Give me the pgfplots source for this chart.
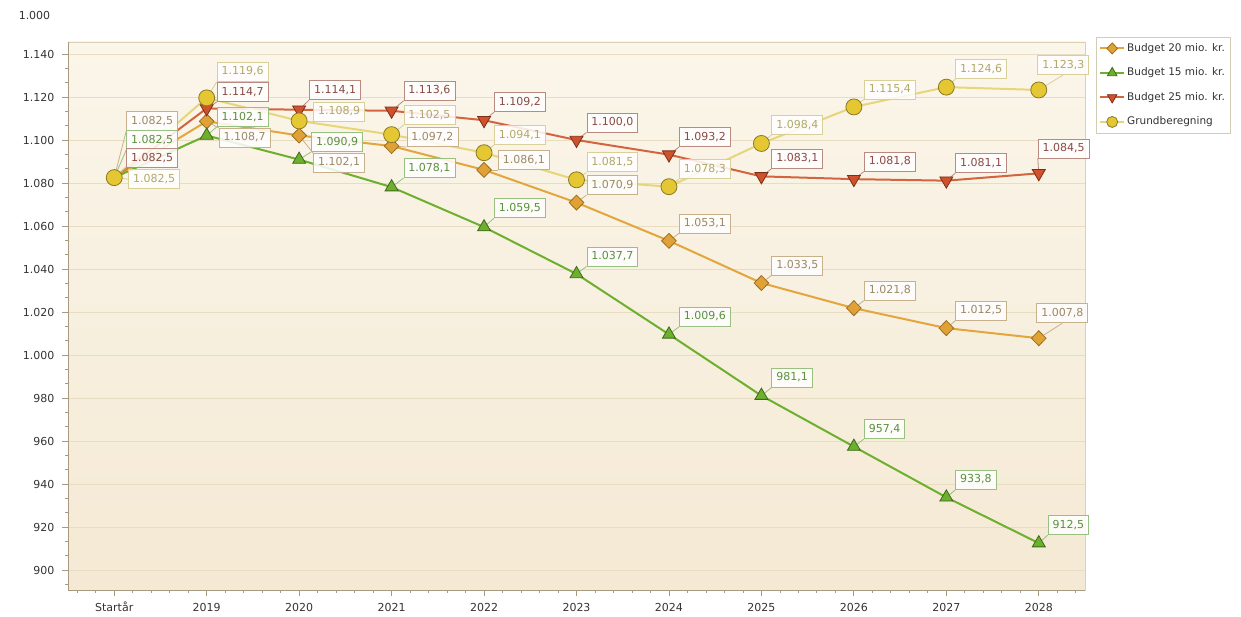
\documentclass[border=0pt]{standalone}
\usepackage{fontspec}
\setmainfont{DejaVu Sans}
\usepackage{pgfplots}
\pgfplotsset{compat=1.18}

\definecolor{cB20}{HTML}{E3A53C}
\definecolor{cB20m}{HTML}{E0A236}
\definecolor{cB20d}{HTML}{9A6E22}
\definecolor{cB15}{HTML}{6DAF2E}
\definecolor{cB15d}{HTML}{3C6A18}
\definecolor{cB25}{HTML}{D4643F}
\definecolor{cB25m}{HTML}{D0522C}
\definecolor{cB25d}{HTML}{7E2E18}
\definecolor{cGr}{HTML}{E6D679}
\definecolor{cGrm}{HTML}{E5C733}
\definecolor{cGrd}{HTML}{8A7A22}
\definecolor{cAxis}{HTML}{A89A80}
\definecolor{cAxisL}{HTML}{DCCFB2}
\definecolor{cGrid}{HTML}{E8DCC2}
\definecolor{cBgT}{HTML}{FBF6EA}
\definecolor{cBgB}{HTML}{F4E9D4}
\definecolor{cTxt}{HTML}{333333}
\definecolor{cLeg}{HTML}{D5CCB5}
% label colours
\definecolor{lB20b}{HTML}{C8B08A}
\definecolor{lB20t}{HTML}{9C8866}
\definecolor{lB15b}{HTML}{98C080}
\definecolor{lB15t}{HTML}{5A9040}
\definecolor{lB25b}{HTML}{B88A80}
\definecolor{lB25t}{HTML}{8A4A44}
\definecolor{lGrb}{HTML}{D8D098}
\definecolor{lGrt}{HTML}{B0A868}

\tikzset{
  lbase/.style={draw, fill=white, fill opacity=0.85, text opacity=1,
    inner xsep=4.5pt, inner ysep=4.5pt, text height=8pt, text depth=2pt,
    font=\fontsize{11}{13}\selectfont, line width=0.8pt},
  B20box/.style={lbase, draw=lB20b, text=lB20t},
  B15box/.style={lbase, draw=lB15b, text=lB15t},
  B25box/.style={lbase, draw=lB25b, text=lB25t},
  Grbox/.style={lbase, draw=lGrb, text=lGrt},
  B20line/.style={draw=lB20b, line width=0.8pt},
  B15line/.style={draw=lB15b, line width=0.8pt},
  B25line/.style={draw=lB25b, line width=0.8pt},
  Grline/.style={draw=lGrb, line width=0.8pt},
}
\newcommand{\lab}[7]{\draw[#1line] (axis cs:#2,#3) -- ++(#5pt,#6pt) node[#1box,anchor=#4]{#7};}

\begin{document}
\begin{tikzpicture}
\path[use as bounding box] (0,0) rectangle (1241pt,617pt);
\begin{axis}[
  at={(68pt,27pt)}, anchor=south west,
  scale only axis, width=1017pt, height=548pt,
  xmin=-0.5, xmax=10.5, ymin=890.7, ymax=1145.6,
  xtick={0,...,10},
  xticklabels={Startår,2019,2020,2021,2022,2023,2024,2025,2026,2027,2028},
  minor xtick={-0.4,-0.2,...,10.45},
  ytick={900,920,...,1140},
  minor ytick={893.3333,900,...,1145},
  tick align=outside, tick pos=left,
  major tick length=6pt, minor tick length=3pt,
  every tick/.style={draw=cAxis, line width=0.8pt},
  ymajorgrids, major grid style={draw=cGrid, line width=0.8pt},
  axis line style={draw=cAxisL, line width=0.8pt},
  axis background/.style={top color=cBgT, bottom color=cBgB},
  tick label style={font=\fontsize{11}{13}\selectfont, text=cTxt},
  xticklabel style={text height=9pt, text depth=2pt, yshift=-3pt},
  /pgf/number format/assume math mode=true,
  yticklabel style={xshift=-4pt, /pgf/number format/.cd, 1000 sep={.}, fixed, precision=0},
  clip=false,
  legend cell align=left,
  legend style={at={(1.0108,1.00912)}, anchor=north west, draw=cLeg, fill=white,
    font=\fontsize{10.5}{12}\selectfont, text=cTxt, inner xsep=3pt, inner ysep=4pt,
    row sep=10pt, nodes={inner sep=2pt, text height=8pt, text depth=2.5pt}},
  legend image code/.code={\draw[mark repeat=2,mark phase=2,mark size=5.5pt]
    plot coordinates {(0pt,0pt) (12pt,0pt) (24pt,0pt)};},
]
\addplot[cB20, line width=2pt, mark=diamond*, mark size=7.5pt,
  mark options={fill=cB20m, draw=cB20d, line width=0.8pt, xscale=1.3}]
  coordinates {(0,1082.5) (1,1108.7) (2,1102.1) (3,1097.2) (4,1086.1) (5,1070.9)
    (6,1053.1) (7,1033.5) (8,1021.8) (9,1012.5) (10,1007.8)};
\addlegendentry{Budget 20 mio. kr.}
\addplot[cB15, line width=2pt, mark=triangle*, mark size=7.5pt,
  mark options={fill=cB15, draw=cB15d, line width=0.8pt}]
  coordinates {(0,1082.5) (1,1102.1) (2,1090.9) (3,1078.1) (4,1059.5) (5,1037.7)
    (6,1009.6) (7,981.1) (8,957.4) (9,933.8) (10,912.5)};
\addlegendentry{Budget 15 mio. kr.}
\addplot[cB25, line width=2pt, mark=triangle*, mark size=7.5pt,
  mark options={rotate=180, fill=cB25m, draw=cB25d, line width=0.8pt}]
  coordinates {(0,1082.5) (1,1114.7) (2,1114.1) (3,1113.6) (4,1109.2) (5,1100.0)
    (6,1093.2) (7,1083.1) (8,1081.8) (9,1081.1) (10,1084.5)};
\addlegendentry{Budget 25 mio. kr.}
\addplot[cGr, line width=2pt, mark=*, mark size=8pt,
  mark options={fill=cGrm, draw=cGrd, line width=0.8pt}]
  coordinates {(0,1082.5) (1,1119.6) (2,1108.9) (3,1102.5) (4,1094.1) (5,1081.5)
    (6,1078.3) (7,1098.4) (8,1115.4) (9,1124.6) (10,1123.3)};
\addlegendentry{Grundberegning}

\draw[cAxis, line width=0.8pt] (rel axis cs:0,1) -- (rel axis cs:0,0) -- (rel axis cs:1,0);

% Start
\lab{B20}{0}{1082.5}{south west}{12}{46.6}{1.082,5}
\lab{B15}{0}{1082.5}{south west}{12}{27.6}{1.082,5}
\lab{B25}{0}{1082.5}{south west}{12}{9.6}{1.082,5}
\lab{Gr}{0}{1082.5}{west}{14}{-1.5}{1.082,5}
% 2019
\lab{Gr}{1}{1119.6}{south west}{10}{16}{1.119,6}
\lab{B25}{1}{1114.7}{south west}{10}{6.4}{1.114,7}
\lab{B15}{1}{1102.1}{south west}{10}{8.5}{1.102,1}
\lab{B20}{1}{1108.7}{north west}{12}{-6.7}{1.108,7}
% 2020
\lab{B25}{2}{1114.1}{south west}{10}{9.7}{1.114,1}
\lab{Gr}{2}{1108.9}{south west}{14}{-1}{1.108,9}
\lab{B15}{2}{1090.9}{south west}{12}{7.6}{1.090,9}
\lab{B20}{2}{1102.1}{north west}{14}{-17.5}{1.102,1}
% 2021
\lab{B25}{3}{1113.6}{south west}{12}{10}{1.113,6}
\lab{Gr}{3}{1102.5}{south west}{12}{9.6}{1.102,5}
\lab{B20}{3}{1097.2}{south west}{15}{-1}{1.097,2}
\lab{B15}{3}{1078.1}{south west}{12}{9}{1.078,1}
% 2022
\lab{B25}{4}{1109.2}{south west}{10}{8}{1.109,2}
\lab{Gr}{4}{1094.1}{south west}{10}{7.7}{1.094,1}
\lab{B20}{4}{1086.1}{south west}{14}{0}{1.086,1}
\lab{B15}{4}{1059.5}{south west}{10}{9}{1.059,5}
% 2023
\lab{B25}{5}{1100.0}{south west}{10}{7.5}{1.100,0}
\lab{Gr}{5}{1081.5}{south west}{10}{7.5}{1.081,5}
\lab{B20}{5}{1070.9}{south west}{10}{7.5}{1.070,9}
\lab{B15}{5}{1037.7}{south west}{10}{7.5}{1.037,7}
% 2024
\lab{B25}{6}{1093.2}{south west}{10}{7.5}{1.093,2}
\lab{Gr}{6}{1078.3}{south west}{10}{7.5}{1.078,3}
\lab{B20}{6}{1053.1}{south west}{10}{7.5}{1.053,1}
\lab{B15}{6}{1009.6}{south west}{10}{7.5}{1.009,6}
% 2025
\lab{Gr}{7}{1098.4}{south west}{10}{8.5}{1.098,4}
\lab{B25}{7}{1083.1}{south west}{10}{7.5}{1.083,1}
\lab{B20}{7}{1033.5}{south west}{10}{7.5}{1.033,5}
\lab{B15}{7}{981.1}{south west}{10}{8}{981,1}
% 2026
\lab{Gr}{8}{1115.4}{south west}{10}{7.5}{1.115,4}
\lab{B25}{8}{1081.8}{south west}{10}{7.5}{1.081,8}
\lab{B20}{8}{1021.8}{south west}{10}{7.5}{1.021,8}
\lab{B15}{8}{957.4}{south west}{10}{7.5}{957,4}
% 2027
\lab{Gr}{9}{1124.6}{south west}{9}{8}{1.124,6}
\lab{B25}{9}{1081.1}{south west}{9}{7.5}{1.081,1}
\lab{B20}{9}{1012.5}{south west}{9}{7.5}{1.012,5}
\lab{B15}{9}{933.8}{south west}{9}{7.5}{933,8}
% 2028
\lab{Gr}{10}{1123.3}{south}{24.5}{15}{1.123,3}
\lab{B25}{10}{1084.5}{south west}{-1}{15}{1.084,5}
\lab{B20}{10}{1007.8}{south}{23.5}{15}{1.007,8}
\lab{B15}{10}{912.5}{south west}{9}{8}{912,5}
\end{axis}
\node[font=\fontsize{11}{13}\selectfont, text=cTxt] at (34.5pt,601pt) {1.000};
\end{tikzpicture}
\end{document}
